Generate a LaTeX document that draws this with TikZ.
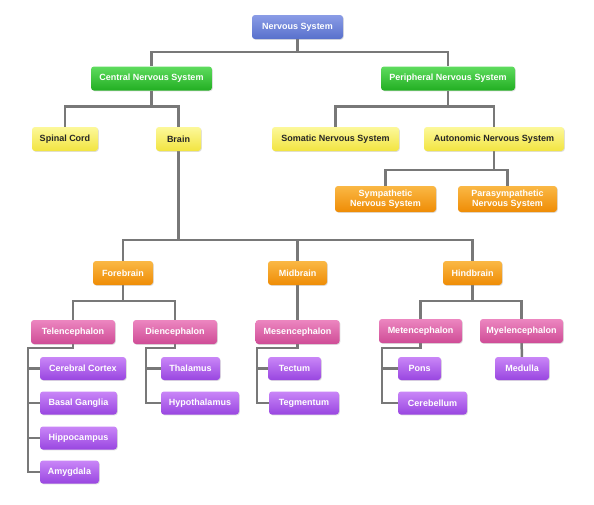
\documentclass[tikz,border=0pt]{standalone}
\usepackage{fontspec}
\setmainfont{Liberation Sans}
\usetikzlibrary{shadows,backgrounds}

\definecolor{linkgray}{HTML}{787878}
\definecolor{blueTop}{HTML}{8A9CE6}
\definecolor{blueBot}{HTML}{5870CC}
\definecolor{greenTop}{HTML}{5EDC5E}
\definecolor{greenBot}{HTML}{22AE22}
\definecolor{yellowTop}{HTML}{FCF89A}
\definecolor{yellowBot}{HTML}{F2E440}
\definecolor{orangeTop}{HTML}{FAB845}
\definecolor{orangeBot}{HTML}{EF8C05}
\definecolor{pinkTop}{HTML}{EC86C0}
\definecolor{pinkBot}{HTML}{CF4C96}
\definecolor{purpleTop}{HTML}{C986F7}
\definecolor{purpleBot}{HTML}{9946E0}

\begin{document}
\begin{tikzpicture}[x=1pt,y=-1pt,
    box/.style={rounded corners=3pt, inner sep=0pt, minimum height=24pt,
      font=\fontsize{9}{10}\selectfont\bfseries, text=white, align=center,
      drop shadow={opacity=.25, shadow xshift=.8pt, shadow yshift=-.8pt}},
    bluebox/.style={box, top color=blueTop, bottom color=blueBot},
    greenbox/.style={box, top color=greenTop, bottom color=greenBot},
    yellowbox/.style={box, top color=yellowTop, bottom color=yellowBot, text=black!85},
    orangebox/.style={box, top color=orangeTop, bottom color=orangeBot},
    pinkbox/.style={box, top color=pinkTop, bottom color=pinkBot},
    purplebox/.style={box, minimum height=23pt, top color=purpleTop, bottom color=purpleBot},
    link/.style={draw=linkgray, line width=2.5pt}]

  \begin{scope}[on background layer]
    \fill[white] (0,0) rectangle (594,504);
  \end{scope}

  \node[bluebox, minimum width=91pt]   (ns)   at (297.5,27)  {Nervous System};

  \node[greenbox, minimum width=121pt] (cns)  at (151.5,78.5) {Central Nervous System};
  \node[greenbox, minimum width=134pt] (pns)  at (448,78.5)   {Peripheral Nervous System};

  \node[yellowbox, minimum width=66pt]  (sc)  at (65,139)    {Spinal Cord};
  \node[yellowbox, minimum width=45pt]  (br)  at (178.5,139) {Brain};
  \node[yellowbox, minimum width=127pt] (som) at (335.5,139) {Somatic Nervous System};
  \node[yellowbox, minimum width=140pt] (aut) at (494,139)   {Autonomic Nervous System};

  \node[orangebox, minimum width=101pt, minimum height=26pt] (sym)  at (385.5,199) {Sympathetic\\Nervous System};
  \node[orangebox, minimum width=99pt, minimum height=26pt]  (para) at (507.5,199) {Parasympathetic\\Nervous System};

  \node[orangebox, minimum width=60pt] (fb) at (123,273)   {Forebrain};
  \node[orangebox, minimum width=59pt] (mb) at (297.5,273) {Midbrain};
  \node[orangebox, minimum width=59pt] (hb) at (472.5,273) {Hindbrain};

  \node[pinkbox, minimum width=84pt] (tel) at (73,332)    {Telencephalon};
  \node[pinkbox, minimum width=84pt] (die) at (175,332)   {Diencephalon};
  \node[pinkbox, minimum width=84pt] (mes) at (297.5,332) {Mesencephalon};
  \node[pinkbox, minimum width=83pt] (met) at (420.5,331) {Metencephalon};
  \node[pinkbox, minimum width=83pt] (mye) at (521.5,331) {Myelencephalon};

  \node[purplebox, minimum width=86pt] (cc)   at (83,368.5)  {Cerebral Cortex};
  \node[purplebox, minimum width=77pt] (bg)   at (78.5,403)  {Basal Ganglia};
  \node[purplebox, minimum width=77pt] (hip)  at (78.5,438)  {Hippocampus};
  \node[purplebox, minimum width=59pt] (amy)  at (69.5,472)  {Amygdala};
  \node[purplebox, minimum width=59pt] (tha)  at (190.5,368.5) {Thalamus};
  \node[purplebox, minimum width=78pt] (hyp)  at (200,403)   {Hypothalamus};
  \node[purplebox, minimum width=53pt] (tec)  at (294.5,368.5) {Tectum};
  \node[purplebox, minimum width=70pt] (teg)  at (304,403)   {Tegmentum};
  \node[purplebox, minimum width=43pt] (pons) at (419.5,368.5) {Pons};
  \node[purplebox, minimum width=69pt] (cer)  at (432.5,403) {Cerebellum};
  \node[purplebox, minimum width=54pt] (med)  at (522,368.5) {Medulla};

  \begin{scope}[on background layer]
    \draw[link] (ns.south) -- ++(0,13) -| (cns.north)
                (ns.south) -- ++(0,13) -| (pns.north);
    \foreach \p/\a/\b in {cns/sc/br, pns/som/aut, fb/tel/die, hb/met/mye}
      \draw[link] (\p.south) -- ++(0,16) -| (\a.north)
                  (\p.south) -- ++(0,16) -| (\b.north);
    \draw[link] (aut.south) -- ++(0,19) -| (sym.north)
                (aut.south) -- ++(0,19) -| (para.north);
    \foreach \c in {fb,mb,hb}
      \draw[link] (br.south) -- ++(0,89) -| (\c.north);
    \draw[link] (mb) -- (mes);
    \draw[link] (mye) -- (med);

    \draw[link] (tel.south) -- ++(0,4) -| ([xshift=-12pt]cc.west) |- (amy.west);
    \foreach \c in {cc,bg,hip}
      \draw[link] (\c.west) -- ++(-12,0);
    \draw[link] (die.south) -- ++(0,4) -| ([xshift=-15pt]tha.west) |- (hyp.west);
    \draw[link] (tha.west) -- ++(-15,0);
    \draw[link] (mes.south) -- ++(0,4) -| ([xshift=-11pt]tec.west) |- (teg.west);
    \draw[link] (tec.west) -- ++(-11,0);
    \draw[link] (met.south) -- ++(0,5) -| ([xshift=-16pt]pons.west) |- (cer.west);
    \draw[link] (pons.west) -- ++(-16,0);
  \end{scope}

\end{tikzpicture}
\end{document}
